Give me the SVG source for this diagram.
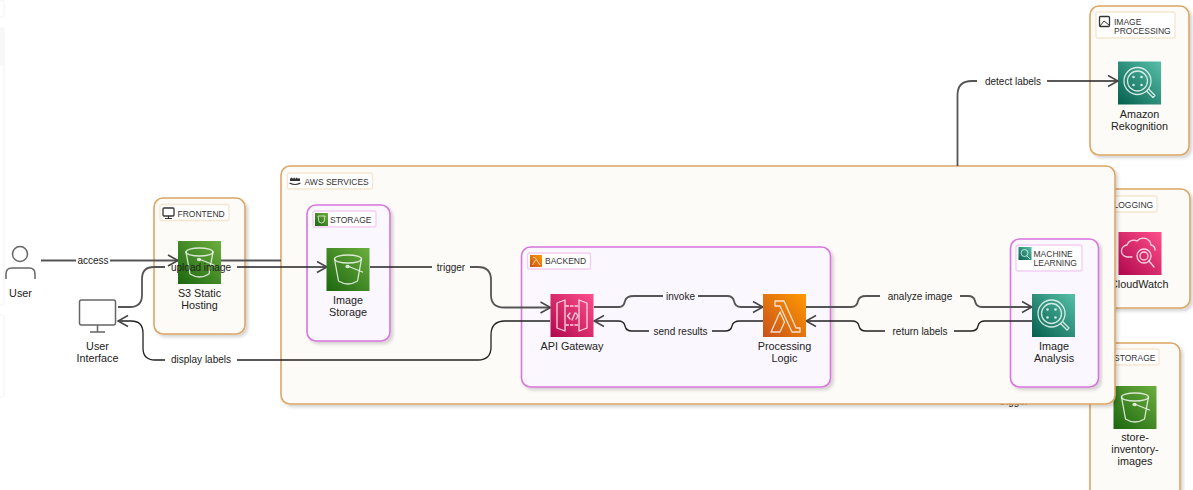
<svg xmlns="http://www.w3.org/2000/svg" xmlns:xlink="http://www.w3.org/1999/xlink" width="1193" height="490" viewBox="0 0 1193 490">
<style>
text{font-family:"Liberation Sans",Arial,sans-serif;fill:#222}
.n{font-size:10.8px;text-anchor:middle}
.e{font-size:10px;text-anchor:middle}
.t{font-size:8.5px;fill:#333}
.go{fill:#fdfbf7;stroke:#dca664;stroke-width:1.6;filter:url(#sh)}
.gp{fill:#fbf7fe;stroke:#d874de;stroke-width:1.6;filter:url(#sh)}
.lo{fill:#fff;stroke:#f6e6d0;stroke-width:1.3}
.lp{fill:#fff;stroke:#f3cdf5;stroke-width:1.3}
.c{fill:none;stroke-linejoin:round}
.g1{stroke:#555;stroke-width:1.8}
.b1{stroke:#222;stroke-width:1.3}
.a{marker-end:url(#ar)}
.i{fill:none;stroke:#fff;stroke-opacity:.8;stroke-width:1.3;stroke-linejoin:round;stroke-linecap:round}
.p{fill:none;stroke:#666;stroke-width:1.5}
.side{fill:#fff;stroke:#f2f2f2;stroke-width:1}
</style>
<defs>
<filter id="sh" x="-5%" y="-5%" width="110%" height="110%"><feDropShadow dx="2.500" dy="2.500" stdDeviation="1.800" flood-color="#000" flood-opacity=".16"/></filter>
<marker id="ar" markerUnits="userSpaceOnUse" markerWidth="14" markerHeight="14" refX="11" refY="7" orient="auto"><path d="M1,1.5 L11,7 L1,12.5" fill="none" stroke="#444" stroke-width="1.5"/></marker>
<linearGradient id="gg" x1="0" y1="1" x2="1" y2="0"><stop offset="0" stop-color="#1b660f"/><stop offset="1" stop-color="#6cae3e"/></linearGradient>
<linearGradient id="gt" x1="0" y1="1" x2="1" y2="0"><stop offset="0" stop-color="#055f4e"/><stop offset="1" stop-color="#56c0a7"/></linearGradient>
<linearGradient id="gr" x1="0" y1="1" x2="1" y2="0"><stop offset="0" stop-color="#b0084d"/><stop offset="1" stop-color="#ff4f8b"/></linearGradient>
<linearGradient id="go" x1="0" y1="1" x2="1" y2="0"><stop offset="0" stop-color="#c8511b"/><stop offset="1" stop-color="#ff9900"/></linearGradient>
<g id="bucket"><rect width="43" height="43" fill="url(#gg)"/><ellipse class="i" cx="21.500" cy="11" rx="13.500" ry="4"/><path class="i" d="M8,11 L12,33 Q21.500,39 31,33 L35,11"/><path class="i" d="M21,18 L36,24"/><ellipse class="i" cx="21" cy="18.500" rx="1.500" ry="1"/></g>
<g id="mag"><rect width="43" height="43" fill="url(#gt)"/><circle class="i" cx="19.500" cy="19.500" r="13.500"/><circle class="i" cx="19.500" cy="19.500" r="10"/><circle cx="15.500" cy="15.500" r="1.300" fill="#fff" fill-opacity=".8"/><circle cx="23.500" cy="15.500" r="1.300" fill="#fff" fill-opacity=".8"/><circle cx="15.500" cy="23.500" r="1.300" fill="#fff" fill-opacity=".8"/><circle cx="23.500" cy="23.500" r="1.300" fill="#fff" fill-opacity=".8"/><path class="i" d="M29,30 L35,36 L37,34 L31,28"/></g>
</defs>

<g id="sidebar">
<rect class="side" x="-6" y="0" width="10" height="17" rx="2"/>
<rect class="side" x="-6" y="28" width="10" height="277" rx="2"/>
<rect x="0" y="29" width="3" height="37" fill="#f7f7f7"/>
<rect class="side" x="-6" y="315" width="10" height="82" rx="2"/>
</g>

<g id="group-image-processing">
<rect class="go" x="1090" y="6" width="99" height="149" rx="9"/>
<rect class="lo" x="1096" y="12" width="79" height="26" rx="2"/>
<rect x="1099.500" y="16.500" width="10" height="10" rx="1" fill="none" stroke="#333" stroke-width="1.300"/>
<path d="M1100,26 L1104,21 L1109,25" fill="none" stroke="#333"/>
<text class="t" x="1114" y="24.500">IMAGE</text>
<text class="t" x="1114" y="33.500">PROCESSING</text>
</g>
<g id="node-rekognition">
<use xlink:href="#mag" href="#mag" x="1118" y="61.500"/>
<text class="n" x="1139.500" y="118">Amazon</text>
<text class="n" x="1139.500" y="130">Rekognition</text>
</g>

<g id="group-logging">
<rect class="go" x="1060" y="189" width="130" height="119" rx="9"/>
<rect class="lo" x="1090" y="196" width="67" height="16" rx="2"/>
<text class="t" x="1113.500" y="207.500">LOGGING</text>
</g>
<g id="node-cloudwatch">
<rect x="1118.500" y="232" width="43" height="43" fill="url(#gr)"/>
<path class="i" d="M1132,257 H1128 A6,6 0 0 1 1127,245 A7,7 0 0 1 1137,241 A8,8 0 0 1 1151,245 A5,5 0 0 1 1155,250"/>
<circle class="i" cx="1144" cy="256" r="7"/><circle class="i" cx="1144" cy="256" r="4"/>
<path class="i" d="M1149,261 L1154,267"/>
<text class="n" x="1139.200" y="288">CloudWatch</text>
</g>

<g id="group-storage-2">
<rect class="go" x="1090" y="343" width="90" height="170" rx="9"/>
<rect class="lo" x="1096" y="349" width="63" height="16" rx="2"/>
<text class="t" x="1114" y="361">STORAGE</text>
</g>
<g id="node-store-inventory">
<use xlink:href="#bucket" href="#bucket" x="1113.500" y="386"/>
<text class="n" x="1135" y="441">store-</text>
<text class="n" x="1135" y="453">inventory-</text>
<text class="n" x="1135" y="465">images</text>
</g>

<text id="clipped-label" class="e" x="1014" y="405">trigger</text>

<g id="group-aws">
<rect class="go" x="281" y="166" width="834" height="238" rx="9"/>
<rect class="lo" x="287.500" y="173" width="85" height="16" rx="2"/>
<path d="M290,179 q1.500,-3 3,0 q1,-3 2.500,0 q1,-3 2.500,0 q1,-2 2,0 v2 h-10 z" fill="#333"/><path d="M289.500,183 q5.500,3 11,0" fill="none" stroke="#333" stroke-width="1.200"/>
<text class="t" x="304.500" y="185">AWS SERVICES</text>
</g>

<g id="group-frontend">
<rect class="go" x="154" y="198" width="91" height="136" rx="9"/>
<rect class="lo" x="160" y="204.500" width="69" height="16" rx="2"/>
<rect x="163" y="208" width="11" height="8" rx="1" fill="none" stroke="#333" stroke-width="1.300"/>
<path d="M168.500,216 V218 M165,218.500 H172" fill="none" stroke="#333"/>
<text class="t" x="177.500" y="216.500">FRONTEND</text>
</g>

<g id="group-storage">
<rect class="gp" x="307" y="205" width="83" height="136" rx="9"/>
<rect class="lp" x="313" y="211" width="63" height="16" rx="2"/>
<rect x="315" y="213" width="13" height="13" fill="url(#gg)"/><path d="M318,216 H325 L324,222 Q321.500,224 319,222 Z" fill="none" stroke="#fff" stroke-width=".7"/>
<text class="t" x="330" y="223">STORAGE</text>
</g>

<g id="group-backend">
<rect class="gp" x="521.500" y="247" width="309" height="140" rx="9"/>
<rect class="lp" x="527.500" y="253" width="63" height="16" rx="2"/>
<rect x="530" y="255" width="12" height="12" fill="url(#go)"/><path d="M533,257.500 H535 L540,265 M535.500,260 L532.500,265" fill="none" stroke="#fff" stroke-width=".7"/>
<text class="t" x="545" y="264">BACKEND</text>
</g>

<g id="group-ml">
<rect class="gp" x="1010.500" y="239" width="88" height="148" rx="9"/>
<rect class="lp" x="1016" y="245" width="66" height="26" rx="2"/>
<rect x="1018.500" y="247" width="13" height="13" fill="url(#gt)"/><circle cx="1024.500" cy="253" r="3.500" fill="none" stroke="#fff" stroke-width=".7"/><path d="M1027,256 L1030,259" stroke="#fff" stroke-width=".7"/>
<text class="t" x="1033.500" y="257">MACHINE</text>
<text class="t" x="1033.500" y="266">LEARNING</text>
</g>

<g id="connectors">
<path class="c g1" d="M957.500,166 V95 Q957.500,81 972,81 H977"/>
<path class="c b1 a" d="M1047,81 H1118"/>
<path class="c g1" d="M41,260.500 H76"/>
<path class="c g1 a" d="M110,260.500 H178"/>
<path class="c g1" d="M221,260.500 H281"/>
<path class="c g1" d="M118,307 H130 Q142,307 142,295 V279 Q142,267 154,267 H165"/>
<path class="c b1 a" d="M237,267 H327"/>
<path class="c b1" d="M550,321 H505 Q491,321 491,335 V347 Q491,360 478,360 H237"/>
<path class="c b1 a" d="M165,360 H155 Q143,360 143,348 V333 Q143,321 131,321 H118"/>
<path class="c b1" d="M370,267 H432"/>
<path class="c g1 a" d="M470,267 H478 Q491,267 491,280 V295 Q491,307.500 504,307.500 H550.500"/>
<path class="c g1" d="M594,307 H619 Q624,307 625,301 Q626,296 634,296 H663"/>
<path class="c g1 a" d="M698,296 H727 Q733,296 734,301 Q735,307 741,307 H763"/>
<path class="c b1" d="M763,321 H740 Q733,321 732,326 Q731,331 725,331 H712"/>
<path class="c b1 a" d="M649,331 H632 Q626,331 625,326 Q624,321 618,321 H594"/>
<path class="c g1" d="M806,307 H851 Q857,307 858,301 Q859,296 866,296 H880"/>
<path class="c g1 a" d="M960,296 H968 Q974,296 975,301 Q976,307 982,307 H1032"/>
<path class="c b1" d="M1032,321 H985 Q979,321 978,326 Q977,331 971,331 H954"/>
<path class="c b1 a" d="M885,331 H866 Q860,331 859,326 Q858,321 852,321 H806"/>
</g>

<g id="node-user">
<circle class="p" cx="20" cy="254" r="7.500"/>
<path class="p" d="M6,279 V274 Q6,268 12,268 H29 Q35,268 35,274 V279"/>
<text class="n" x="20.500" y="296.500">User</text>
</g>
<g id="node-ui">
<rect class="p" x="79.500" y="300" width="36" height="25" rx="2"/>
<path class="p" d="M97.500,325 V332 M90,332 H105"/>
<text class="n" x="97.500" y="350">User</text>
<text class="n" x="97.500" y="362">Interface</text>
</g>
<g id="node-s3-hosting">
<use xlink:href="#bucket" href="#bucket" x="178" y="241"/>
<text class="n" x="199.500" y="297">S3 Static</text>
<text class="n" x="199.500" y="309">Hosting</text>
</g>
<g id="node-image-storage">
<use xlink:href="#bucket" href="#bucket" x="326.500" y="248"/>
<text class="n" x="348" y="303.500">Image</text>
<text class="n" x="348" y="315.500">Storage</text>
</g>
<g id="node-api-gateway">
<rect x="550.500" y="294" width="43" height="43" fill="url(#gr)"/>
<path class="i" d="M557,303 V328 L565,331 V300 Z M587,303 V328 L579,331 V300 Z"/>
<path class="i" stroke-dasharray="2.500 2" d="M566,306 H578 M566,325 H578"/>
<path class="i" d="M570,313 L567.500,316 L570,319 M575,313 L572,320 M576,313 L578,316 L576,319"/>
<text class="n" x="572" y="350">API Gateway</text>
</g>
<g id="node-lambda">
<rect x="763" y="294" width="43" height="43" fill="url(#go)"/>
<path class="i" d="M775,301 H784 L796,328 H800 V332 H792 L780,306 H775 Z M780,312 L784.500,322 L780,332 H771 Z"/>
<text class="n" x="784.500" y="350">Processing</text>
<text class="n" x="784.500" y="362">Logic</text>
</g>
<g id="node-image-analysis">
<use xlink:href="#mag" href="#mag" x="1032" y="294"/>
<text class="n" x="1054" y="350">Image</text>
<text class="n" x="1054" y="362">Analysis</text>
</g>

<g id="edge-labels">
<text class="e" x="93" y="263.500">access</text>
<text class="e" x="201" y="270.500">upload image</text>
<text class="e" x="201" y="363">display labels</text>
<text class="e" x="451" y="270.500">trigger</text>
<text class="e" x="680.500" y="299.500">invoke</text>
<text class="e" x="680.500" y="334.500">send results</text>
<text class="e" x="920" y="299.500">analyze image</text>
<text class="e" x="920" y="334.500">return labels</text>
<text class="e" x="1013" y="84.500">detect labels</text>
</g>
</svg>
